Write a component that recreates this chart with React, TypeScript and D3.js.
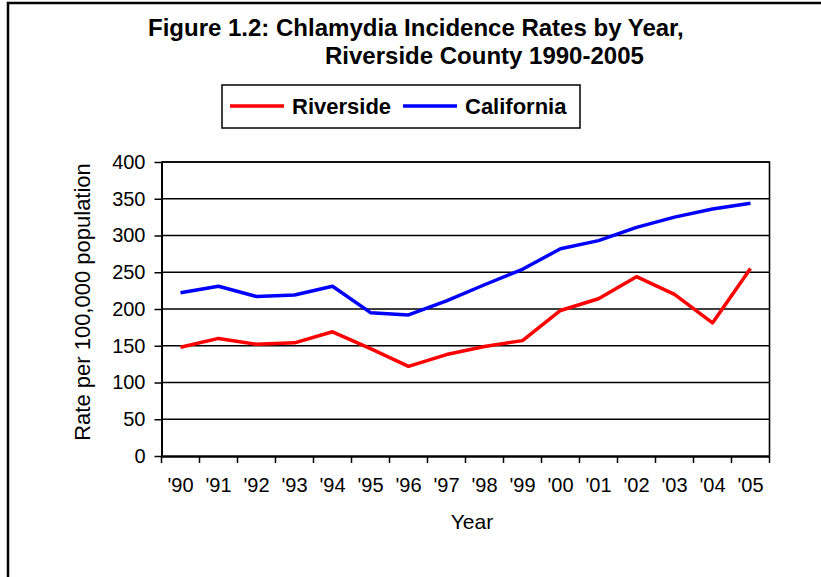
import React, { useEffect, useRef } from "react";
import * as d3 from "d3";

const years = ["'90", "'91", "'92", "'93", "'94", "'95", "'96", "'97", "'98", "'99", "'00", "'01", "'02", "'03", "'04", "'05"];
const riverside = [148, 160, 152, 154, 169, 146, 122, 138, 149, 157, 198, 214, 244, 220, 181, 255];
const california = [222, 231, 217, 219, 231, 195, 192, 211, 233, 254, 282, 293, 311, 325, 336, 344];
const yTicks = [0, 50, 100, 150, 200, 250, 300, 350, 400];

const FONT = "Arial, 'Liberation Sans', sans-serif";

const App: React.FC = () => {
  const svgRef = useRef<SVGSVGElement | null>(null);

  useEffect(() => {
    const width = 821;
    const height = 577;
    const plot = { left: 161.5, right: 769.5, top: 162, bottom: 456 };

    const svg = d3.select(svgRef.current).attr("width", width).attr("height", height);
    svg.selectAll("*").remove();

    svg.append("rect").attr("width", width).attr("height", height).attr("fill", "white");

    // outer frame (only top and left edges visible)
    svg
      .append("path")
      .attr("d", `M8,${height} L8,3 L${width},3`)
      .attr("fill", "none")
      .attr("stroke", "black")
      .attr("stroke-width", 2.5);

    const x = d3.scaleBand().domain(years).range([plot.left, plot.right]);
    const y = d3.scaleLinear().domain([0, 400]).range([plot.bottom, plot.top]);

    // gridlines
    svg
      .append("g")
      .selectAll("line")
      .data(yTicks.filter((t) => t > 0))
      .enter()
      .append("line")
      .attr("x1", plot.left)
      .attr("x2", plot.right)
      .attr("y1", (d) => y(d))
      .attr("y2", (d) => y(d))
      .attr("stroke", "black")
      .attr("stroke-width", 1.6);

    // plot border top/right
    svg
      .append("path")
      .attr("d", `M${plot.left},${plot.top} L${plot.right},${plot.top} L${plot.right},${plot.bottom}`)
      .attr("fill", "none")
      .attr("stroke", "black")
      .attr("stroke-width", 1.6);

    // y axis
    const yAxis = svg
      .append("g")
      .attr("transform", `translate(${plot.left},0)`)
      .call(d3.axisLeft(y).tickValues(yTicks).tickSize(7).tickSizeOuter(0).tickPadding(9));
    yAxis.select(".domain").attr("stroke", "black").attr("stroke-width", 2);
    yAxis.selectAll("line").attr("stroke", "black").attr("stroke-width", 1.5);
    yAxis
      .selectAll("text")
      .style("font-family", FONT)
      .style("font-size", "20px")
      .style("fill", "black");

    // x axis with ticks at band edges
    const xAxis = svg
      .append("g")
      .attr("transform", `translate(0,${plot.bottom})`)
      .call(d3.axisBottom(x).tickSize(0).tickSizeOuter(0).tickPadding(22));
    xAxis.select(".domain").attr("stroke", "black").attr("stroke-width", 2.5);
    xAxis
      .selectAll("text")
      .style("font-family", FONT)
      .style("font-size", "20px")
      .style("fill", "black");
    const edges = years.map((d) => x(d) as number).concat([plot.right]);
    xAxis
      .append("g")
      .selectAll("line")
      .data(edges)
      .enter()
      .append("line")
      .attr("x1", (d) => d)
      .attr("x2", (d) => d)
      .attr("y1", 0)
      .attr("y2", 7)
      .attr("stroke", "black")
      .attr("stroke-width", 1.5);

    // lines
    const line = d3
      .line<number>()
      .x((_, i) => (x(years[i]) as number) + x.bandwidth() / 2)
      .y((d) => y(d));

    svg
      .append("path")
      .datum(california)
      .attr("d", line)
      .attr("fill", "none")
      .attr("stroke", "#0000ff")
      .attr("stroke-width", 3.5)
      .attr("stroke-linejoin", "round");

    svg
      .append("path")
      .datum(riverside)
      .attr("d", line)
      .attr("fill", "none")
      .attr("stroke", "#ff0000")
      .attr("stroke-width", 3.5)
      .attr("stroke-linejoin", "round");

    // title
    svg
      .append("text")
      .attr("x", 148)
      .attr("y", 36)
      .style("font-family", FONT)
      .style("font-size", "24px")
      .style("font-weight", "bold")
      .style("fill", "black")
      .text("Figure 1.2: Chlamydia Incidence Rates by Year,");
    svg
      .append("text")
      .attr("x", 325)
      .attr("y", 64)
      .style("font-family", FONT)
      .style("font-size", "24px")
      .style("font-weight", "bold")
      .style("fill", "black")
      .text("Riverside County 1990-2005");

    // legend
    const legend = svg.append("g");
    legend
      .append("rect")
      .attr("x", 222)
      .attr("y", 85)
      .attr("width", 358)
      .attr("height", 43)
      .attr("fill", "white")
      .attr("stroke", "black")
      .attr("stroke-width", 1.5);
    const items = [
      { name: "Riverside", color: "#ff0000", x0: 230 },
      { name: "California", color: "#0000ff", x0: 403 },
    ];
    items.forEach((it) => {
      legend
        .append("line")
        .attr("x1", it.x0)
        .attr("x2", it.x0 + 54)
        .attr("y1", 106)
        .attr("y2", 106)
        .attr("stroke", it.color)
        .attr("stroke-width", 3.5);
      legend
        .append("text")
        .attr("x", it.x0 + 62)
        .attr("y", 114)
        .style("font-family", FONT)
        .style("font-size", "22px")
        .style("font-weight", "bold")
        .style("fill", "black")
        .text(it.name);
    });

    // axis titles
    svg
      .append("text")
      .attr("x", 472)
      .attr("y", 529)
      .attr("text-anchor", "middle")
      .style("font-family", FONT)
      .style("font-size", "21px")
      .style("fill", "black")
      .text("Year");

    svg
      .append("text")
      .attr("transform", `translate(90,302) rotate(-90)`)
      .attr("text-anchor", "middle")
      .style("font-family", FONT)
      .style("font-size", "22px")
      .style("fill", "black")
      .text("Rate per 100,000 population");
  }, []);

  return <svg ref={svgRef} style={{ position: "absolute", left: 0, top: 0 }}></svg>;
};

export default App;
